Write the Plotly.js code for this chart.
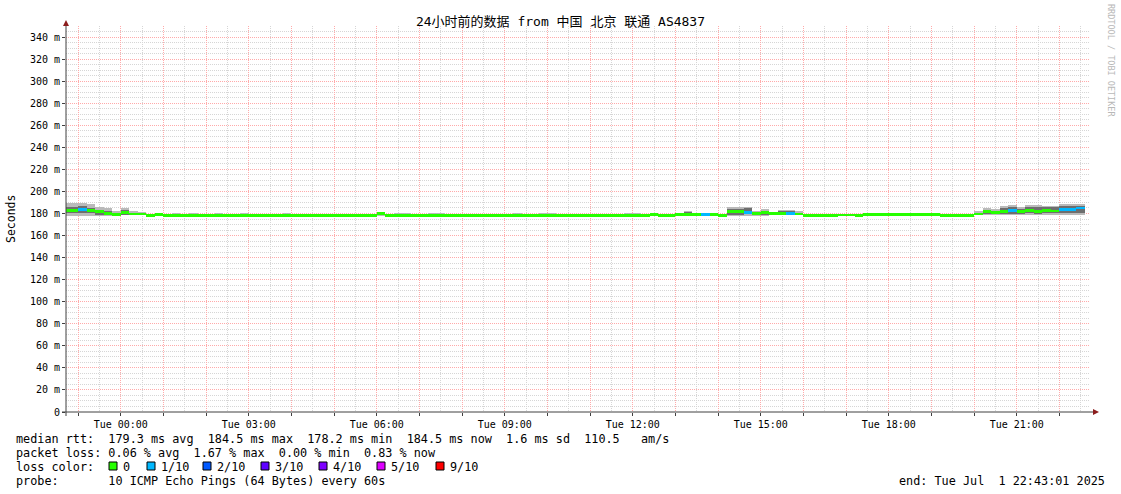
<!DOCTYPE html>
<html><head><meta charset="utf-8">
<script src="https://cdn.plot.ly/plotly-3.0.1.min.js"></script>
<style>html,body{margin:0;padding:0;background:#fff;}</style>
</head><body><div id="chart" style="width:1121px;height:494px;"></div>
<script>
const n = null;
// 12-minute bins, first bin starts Mon 2025-06-30 22:36 (window 22:43:01 -> 22:43:01)
const binStartUTC = Date.UTC(2025, 5, 30, 22, 36, 0);
const binMinutes = 12;

const median = [
 183, 182.5, 184, 182.5, 181.5, 180, 179, 181, 179.5, 179.5,
 178.2, 178.9, 178.5, 178.5, 178.5, 178.5, 178.5, 178.5, 178.5, 178.5,
 178.5, 178.5, 178.5, 178.5, 178.5, 178.5, 178.5, 178.5, 178.5, 178.5,
 178.5, 178.5, 178.5, 178.5, 178.5, 178.5, 178.5, 179.6, 178.5, 178.5,
 178.5, 178.5, 178.5, 178.5, 178.5, 178.5, 178.5, 178.5, 178.5, 178.5,
 178.5, 178.5, 178.5, 178.5, 178.5, 178.5, 178.5, 178.5, 178.5, 178.5,
 178.5, 178.5, 178.5, 178.5, 178.5, 178.5, 178.3, 178.3, 178.3, 179.3,
 178.3, 178.3, 179.2, 179.2, 179.2, 179.2, 179.2, 178.2, 181.5, 181.5,
 181, 180, 180.8, 179.8, 179.8, 180, 179.5, 178.5, 178.5, 178.5,
 178.2, 178.6, 178.6, 178.3, 178.7, 178.7, 178.7, 178.7, 178.7, 178.7,
 178.7, 178.7, 178.7, 178.2, 178.5, 178.5, 178.5, 179.5, 181.5, 181,
 182, 182.8, 181.5, 183, 181.5, 183, 182.3, 183.5, 183.3, 185
];
const lossTenths = [
 0,0,1,0,0,0,0,0,0,0,
 0,0,0,0,0,0,0,0,0,0,
 0,0,0,0,0,0,0,0,0,0,
 0,0,0,0,0,0,0,0,0,0,
 0,0,0,0,0,0,0,0,0,0,
 0,0,0,0,0,0,0,0,0,0,
 0,0,0,0,0,0,0,0,0,0,
 0,0,0,0,0,1,0,0,0,0,
 1,0,0,0,0,1,0,0,0,0,
 0,0,0,0,0,0,0,0,0,0,
 0,0,0,0,0,0,0,0,0,0,
 0,1,0,0,0,0,0,1,1,1
];
const smokeHi = [
 189.5, 189.5, 189.5, 188.6, 186, 184.7, 182, 185, 182, 181,
 179.3, 180, 179.2, 180.5, 179.2, 180.3, 179.2, 179.2, 180.5, 179.2,
 179.2, 180.3, 179.2, 179.2, 179.2, 179.2, 180.5, 179.2, 179.2, 179.2,
 179.2, 179.2, 179.2, 179.2, 179.2, 179.2, 179.2, 180.3, 179.2, 180,
 180, 179.2, 179.2, 180, 180, 179.2, 179.2, 179.2, 179.2, 179.2,
 179.2, 179.2, 179.2, 180, 179.2, 179.2, 180, 180, 179.2, 179.2,
 179.2, 179.2, 179.2, 179.2, 179.2, 179.2, 180.4, 180.4, 179, 180,
 179, 179, 180.5, 182, 179.8, 180.5, 179.8, 178.9, 186, 186,
 186, 182.5, 184, 181.4, 183.5, 183.5, 182, 179.2, 179.2, 179.2,
 178.9, 179.3, 179.3, 179, 179.4, 179.4, 179.4, 179.4, 179.4, 179.4,
 179.4, 179.4, 179.4, 178.9, 179.2, 179.2, 179.2, 182, 185.2, 184,
 187, 188, 186, 188, 188, 187, 187, 188.6, 188.6, 188.6
];
const smokeLo = [
 178, 178, 178, 178, 178, 178, 178, 178.3, 178.3, 178.2,
 177.8, 178, 178, 178, 178, 178, 178, 178, 178, 178,
 178, 178, 178, 178, 178, 178, 178, 178, 178, 178,
 178, 178, 178, 178, 178, 178, 178, 178, 178, 178,
 178, 178, 178, 178, 178, 178, 178, 178, 178, 178,
 178, 178, 178, 178, 178, 178, 178, 178, 178, 178,
 178, 178, 178, 178, 178, 178, 177.8, 177.8, 177.8, 178,
 178, 178, 178.3, 178.3, 178.3, 178.3, 178.3, 177.8, 178, 178,
 178, 178, 178, 178.3, 178.3, 178.3, 178.3, 178, 178, 178,
 177.8, 178, 178, 178, 178, 178, 178, 178, 178, 178,
 178, 178, 178, 177.8, 178, 178, 178, 178.3, 178.3, 178.3,
 178.3, 178.3, 178.3, 178.3, 178.3, 178.3, 178.3, 178.3, 178.3, 178.3
];
const coreHi = [
 186, 186, 187, 185, 183, 182, 180, 183, 180.5, 180,
 n, n, n, n, n, n, n, n, n, n,
 n, n, n, n, n, n, n, n, n, n,
 n, n, n, n, n, n, n, n, n, n,
 n, n, n, n, n, n, n, n, n, n,
 n, n, n, n, n, n, n, n, n, n,
 n, n, n, n, n, n, n, n, n, n,
 n, n, n, 181, n, n, n, n, 184, 184,
 185, 181.5, 182.5, 180.5, 182, 182, 180.5, n, n, n,
 n, n, n, n, n, n, n, n, n, n,
 n, n, n, n, n, n, n, 180.5, 183.5, 182.5,
 185, 186, 184, 186, 186, 185.5, 185.5, 187, 187, 187
];
const coreLo = [
 180, 180, 180, 180, 179, 179, 178.5, 179, 178.6, 178.6,
 n, n, n, n, n, n, n, n, n, n,
 n, n, n, n, n, n, n, n, n, n,
 n, n, n, n, n, n, n, n, n, n,
 n, n, n, n, n, n, n, n, n, n,
 n, n, n, n, n, n, n, n, n, n,
 n, n, n, n, n, n, n, n, n, n,
 n, n, n, 179, n, n, n, n, 179, 179,
 179.5, 179, 179, 179, 179, 179, 178.8, n, n, n,
 n, n, n, n, n, n, n, n, n, n,
 n, n, n, n, n, n, n, 178.8, 179.5, 179.5,
 179.5, 179.5, 179.5, 180, 179.5, 180, 180, 180, 180, 180
];

const lossLabels = ['0', '1/10', '2/10', '3/10', '4/10', '5/10', '9/10'];
const lossColors = ['#26ff00', '#00b8ff', '#0059ff', '#5e00ff', '#7e00ff', '#dd00ff', '#ff0000'];

const yTickVals = [0, 20, 40, 60, 80, 100, 120, 140, 160, 180, 200, 220, 240, 260, 280, 300, 320, 340];
const yTickText = ['0', '20 m', '40 m', '60 m', '80 m', '100 m', '120 m', '140 m', '160 m', '180 m',
                   '200 m', '220 m', '240 m', '260 m', '280 m', '300 m', '320 m', '340 m'];
const xLabelTimes = ['2025-07-01 00:00', '2025-07-01 03:00', '2025-07-01 06:00', '2025-07-01 09:00',
                     '2025-07-01 12:00', '2025-07-01 15:00', '2025-07-01 18:00', '2025-07-01 21:00'];
const xLabelText = ['Tue 00:00', 'Tue 03:00', 'Tue 06:00', 'Tue 09:00',
                    'Tue 12:00', 'Tue 15:00', 'Tue 18:00', 'Tue 21:00'];

const titleText = '24小时前的数据 from 中国 北京 联通 AS4837';
const statLines = [
  'median rtt:  179.3 ms avg  184.5 ms max  178.2 ms min  184.5 ms now  1.6 ms sd  110.5   am/s',
  'packet loss: 0.06 % avg  1.67 % max  0.00 % min  0.83 % now',
  'loss color:',
  'probe:       10 ICMP Echo Pings (64 Bytes) every 60s'
];
const endText = 'end: Tue Jul  1 22:43:01 2025';

// ---------- helpers / style ----------
const MONO = '"DejaVu Sans Mono", "Noto Sans CJK SC", monospace';
const fmt = ms => new Date(ms).toISOString().slice(0, 19).replace('T', ' ');
const binMs = binMinutes * 60000;
const binCenters = median.map((_, k) => fmt(binStartUTC + k * binMs + binMs / 2));
const nb = s => s.replace(/ /g, '\u00a0');

const PL = 66, PR = 1090, PT = 26, PB = 412;
const px = x => (x - PL) / (PR - PL);
const py = y => (PB - y) / (PB - PT);

// hourly grid ticks
const gridHours = [];
for (let t = Date.UTC(2025, 5, 30, 23, 0); t <= Date.UTC(2025, 6, 1, 22, 0); t += 3600000) {
  gridHours.push(fmt(t).slice(0, 16));
}
const gridText = gridHours.map(h => {
  const i = xLabelTimes.indexOf(h);
  return i >= 0 ? xLabelText[i] : '';
});

const medianThickness = 2.6;
const lossColorOf = v => lossColors[v >= 9 ? 6 : Math.min(v, 5)];

const traces = [
  {
    type: 'bar', x: binCenters, base: smokeLo,
    y: smokeHi.map((h, k) => h - smokeLo[k]),
    width: binMs, marker: {color: '#bababa', line: {width: 0}},
    hoverinfo: 'skip', showlegend: false
  },
  {
    type: 'bar', x: binCenters, base: coreLo,
    y: coreHi.map((h, k) => (h === null ? null : h - coreLo[k])),
    width: binMs, marker: {color: '#6e6e6e', line: {width: 0}},
    hoverinfo: 'skip', showlegend: false
  },
  {
    type: 'bar', x: binCenters, base: median.map(m => m - medianThickness / 2),
    y: median.map(() => medianThickness),
    width: binMs, marker: {color: lossTenths.map(lossColorOf), line: {width: 0}},
    hoverinfo: 'skip', showlegend: false
  }
];

const shapes = [];
const annotations = [];
// axis lines + arrows
shapes.push({type: 'line', xref: 'paper', yref: 'paper', x0: 0, x1: 0, y0: py(416), y1: py(24),
             line: {color: '#404040', width: 1}, layer: 'above'});
shapes.push({type: 'line', xref: 'paper', yref: 'paper', x0: px(62), x1: px(1094), y0: 0, y1: 0,
             line: {color: '#404040', width: 1}, layer: 'above'});
shapes.push({type: 'path', xref: 'paper', yref: 'paper', layer: 'above',
  path: `M ${px(63)} ${py(26)} L ${px(69)} ${py(26)} L ${px(66)} ${py(20)} Z`,
  fillcolor: '#8b1c1c', line: {width: 0}});
shapes.push({type: 'path', xref: 'paper', yref: 'paper', layer: 'above',
  path: `M ${px(1093)} ${py(409)} L ${px(1093)} ${py(415)} L ${px(1099)} ${py(412)} Z`,
  fillcolor: '#8b1c1c', line: {width: 0}});

const LEG = 11.8;
// stats lines
const lineY = [439, 453, 467, 481];
statLines.forEach((s, i) => {
  annotations.push({xref: 'paper', yref: 'paper', x: px(13.5), y: py(lineY[i]),
    xanchor: 'left', yanchor: 'middle', showarrow: false, text: nb(s),
    font: {family: MONO, size: LEG, color: '#000'}});
});
annotations.push({xref: 'paper', yref: 'paper', x: px(1107), y: py(481),
  xanchor: 'right', yanchor: 'middle', showarrow: false, text: nb(endText),
  font: {family: MONO, size: LEG, color: '#000'}});

// loss colour legend
const boxX = [109, 147, 203, 261, 319, 377, 436];
lossLabels.forEach((lab, i) => {
  shapes.push({type: 'rect', xref: 'paper', yref: 'paper',
    x0: px(boxX[i]), x1: px(boxX[i] + 8), y0: py(470), y1: py(462),
    fillcolor: lossColors[i], line: {color: '#000', width: 1}});
  annotations.push({xref: 'paper', yref: 'paper', x: px(boxX[i] + 12), y: py(467),
    xanchor: 'left', yanchor: 'middle', showarrow: false, text: lab,
    font: {family: MONO, size: LEG, color: '#000'}});
});

// y axis title
annotations.push({xref: 'paper', yref: 'paper', x: px(11), y: py(219), textangle: -90,
  xanchor: 'center', yanchor: 'middle', showarrow: false, text: 'Seconds',
  font: {family: MONO, size: 11.5, color: '#000'}});
// watermark
annotations.push({xref: 'paper', yref: 'paper', x: px(1111), y: py(60), textangle: 90,
  xanchor: 'center', yanchor: 'middle', showarrow: false, text: nb('RRDTOOL / TOBI OETIKER'),
  font: {family: MONO, size: 8.5, color: '#b8b8b8'}});

const layout = {
  width: 1121, height: 494,
  margin: {l: PL, r: 1121 - PR, t: PT, b: 494 - PB, pad: 0},
  paper_bgcolor: '#ffffff', plot_bgcolor: '#ffffff',
  barmode: 'overlay', bargap: 0,
  showlegend: false,
  title: {text: titleText, font: {family: MONO, size: 13, color: '#000'},
          xref: 'container', x: 0.5, xanchor: 'center', yref: 'container', y: 1 - 21 / 494, yanchor: 'middle'},
  xaxis: {
    type: 'date', range: ['2025-06-30 22:43:01', '2025-07-01 22:43:01'],
    tickmode: 'array', tickvals: gridHours, ticktext: gridText,
    showgrid: true, gridcolor: '#ffaaaa', griddash: '1px,1px', gridwidth: 1,
    zeroline: false, showline: false,
    ticks: 'outside', ticklen: 3, tickcolor: '#404040',
    tickfont: {family: MONO, size: 10, color: '#000'},
    minor: {dtick: 1800000, tick0: '2025-07-01 00:00', showgrid: true,
            gridcolor: '#d6d6d6', griddash: '1px,1px', gridwidth: 1, ticks: ''},
    fixedrange: true
  },
  yaxis: {
    range: [0, 350],
    tickmode: 'array', tickvals: yTickVals, ticktext: yTickText,
    showgrid: true, gridcolor: '#ffaaaa', griddash: '1px,1px', gridwidth: 1,
    zeroline: false, showline: false,
    ticks: 'outside', ticklen: 3, tickcolor: '#404040',
    tickfont: {family: MONO, size: 10, color: '#000'},
    minor: {dtick: 5, tick0: 0, showgrid: true, gridcolor: '#d6d6d6', griddash: '1px,1px', gridwidth: 1, ticks: ''},
    fixedrange: true
  },
  shapes: shapes,
  annotations: annotations
};

Plotly.newPlot('chart', traces, layout, {displayModeBar: false, staticPlot: true});
</script>
</body></html>
